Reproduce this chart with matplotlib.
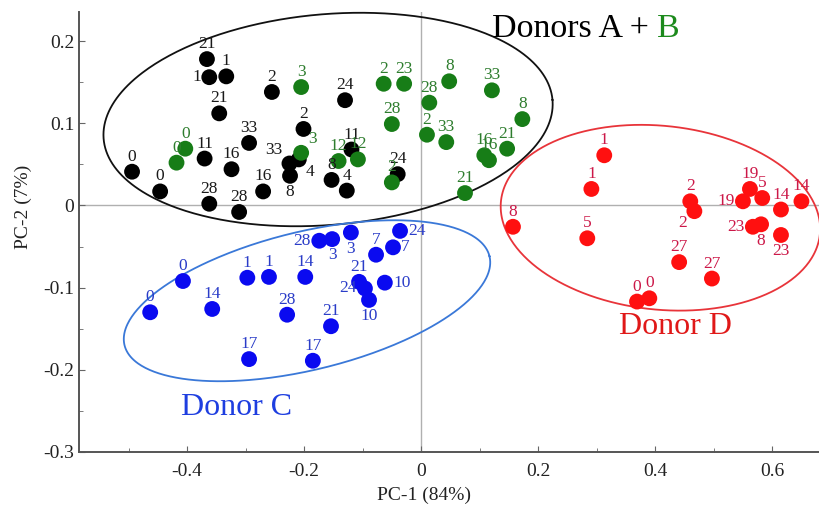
import numpy as np
import matplotlib
matplotlib.use("Agg")
import matplotlib.pyplot as plt
from matplotlib.ticker import MultipleLocator, FuncFormatter

plt.rcParams['font.family'] = ['Liberation Serif', 'DejaVu Serif']

# ---- scores (PC-1, PC-2) and sample labels ----
donor_ab_black_x = [-0.366, -0.362, -0.333, -0.345, -0.255, -0.130, -0.201, -0.294, -0.370, -0.324, -0.494,
                    -0.446, -0.362, -0.311, -0.270, -0.225, -0.209, -0.224, -0.119, -0.153, -0.127, -0.040]
donor_ab_black_y = [0.178, 0.156, 0.157, 0.112, 0.138, 0.128, 0.093, 0.076, 0.057, 0.044, 0.041,
                    0.017, 0.002, -0.008, 0.017, 0.051, 0.056, 0.036, 0.068, 0.031, 0.018, 0.038]
donor_ab_black_lab = ["21", "1", "1", "21", "2", "24", "2", "33", "11", "16", "0",
                      "0", "28", "28", "16", "33", "4", "8", "11", "8", "4", "24"]

donor_ab_green_x = [-0.403, -0.418, -0.205, -0.205, -0.141, -0.108, -0.064, -0.029, -0.050, -0.050,
                    0.048, 0.014, 0.121, 0.173, 0.010, 0.043, 0.108, 0.116, 0.147, 0.075]
donor_ab_green_y = [0.069, 0.052, 0.144, 0.064, 0.054, 0.056, 0.148, 0.148, 0.099, 0.028,
                    0.151, 0.125, 0.140, 0.105, 0.086, 0.077, 0.061, 0.055, 0.069, 0.015]
donor_ab_green_lab = ["0", "0", "3", "3", "12", "12", "2", "23", "28", "2",
                      "8", "28", "33", "8", "2", "33", "16", "16", "21", "21"]

donor_c_x = [-0.174, -0.152, -0.120, -0.036, -0.048, -0.077, -0.407, -0.297, -0.260, -0.198,
             -0.106, -0.096, -0.089, -0.062, -0.463, -0.357, -0.229, -0.154, -0.294, -0.185]
donor_c_y = [-0.043, -0.041, -0.033, -0.031, -0.051, -0.060, -0.092, -0.088, -0.087, -0.087,
             -0.093, -0.101, -0.115, -0.094, -0.130, -0.126, -0.133, -0.147, -0.187, -0.189]
donor_c_lab = ["28", "3", "3", "24", "7", "7", "0", "1", "1", "14",
               "21", "24", "10", "10", "0", "14", "28", "21", "17", "17"]

donor_d_x = [0.313, 0.291, 0.157, 0.284, 0.460, 0.467, 0.441, 0.497, 0.369, 0.390,
             0.562, 0.550, 0.583, 0.615, 0.650, 0.567, 0.581, 0.615]
donor_d_y = [0.061, 0.020, -0.026, -0.040, 0.005, -0.007, -0.069, -0.089, -0.117, -0.113,
             0.020, 0.005, 0.009, -0.005, 0.005, -0.026, -0.023, -0.036]
donor_d_lab = ["1", "1", "8", "5", "2", "2", "27", "27", "0", "0",
               "19", "19", "5", "14", "14", "23", "8", "23"]

# label placement that is not "above the dot" (index -> side)
black_side = {1: "w", 15: "nw", 16: "se", 17: "s"}
green_side = {3: "ne"}
c_side = {0: "w", 1: "s", 2: "s", 3: "e", 4: "e", 11: "w", 12: "s", 13: "e"}
d_side = {5: "sw", 11: "w", 15: "w", 16: "s", 17: "s"}

# group ellipses: centre, semi-axes (in PC-1 units), tilt in degrees
ellipse_ab = ((-0.159, 0.1045), 0.385, 0.180, 5.0)
ellipse_c = ((-0.195, -0.116), 0.321, 0.118, 13.7)
ellipse_d = ((0.409, -0.015), 0.274, 0.157, -6.0)

XLIM = (-0.5846, 0.680)
YLIM = (-0.30, 0.2353)

fig = plt.figure(figsize=(8.19, 5.11), dpi=100)
ax = fig.add_axes([0.0965, 0.1155, 0.9035, 0.861])
ax.set_xlim(*XLIM)
ax.set_ylim(*YLIM)

ax.axhline(0, color="#b0b0b0", lw=1.0, zorder=0)
ax.axvline(0, color="#b0b0b0", lw=1.0, zorder=0)

# ratio of pixels per y-unit to pixels per x-unit, to draw undistorted ellipses
bb = ax.get_window_extent()
px_x = bb.width / (XLIM[1] - XLIM[0])
px_y = bb.height / (YLIM[1] - YLIM[0])


def draw_ellipse(params, color):
    (cx, cy), a, b, ang = params
    t = np.linspace(0, 2 * np.pi, 400)
    th = np.deg2rad(ang)
    u = a * np.cos(t)
    v = b * np.sin(t)
    dx = u * np.cos(th) - v * np.sin(th)
    dy = (u * np.sin(th) + v * np.cos(th)) * px_x / px_y
    ax.plot(cx + dx, cy + dy, color=color, lw=1.3, zorder=1, clip_on=False)


offsets = {"n": (0, 5, "center", "bottom"), "s": (0, -6, "center", "top"),
           "w": (-6, 0, "right", "center"), "e": (6, 0, "left", "center"),
           "nw": (-5, 4, "right", "bottom"), "ne": (5, 4, "left", "bottom"),
           "se": (5, -3, "left", "top"), "sw": (-5, -3, "right", "top")}


def draw_group(xs, ys, labs, sides, dot_color, text_color):
    ax.scatter(xs, ys, s=130, color=dot_color, edgecolors="none", zorder=3)
    for i, (x, y, lab) in enumerate(zip(xs, ys, labs)):
        ox, oy, ha, va = offsets[sides.get(i, "n")]
        ax.annotate(lab, (x, y), xytext=(ox, oy), textcoords="offset points",
                    ha=ha, va=va, fontsize=12.5, color=text_color, zorder=4)


draw_ellipse(ellipse_ab, "#111111")
draw_ellipse(ellipse_c, "#3a78d8")
draw_ellipse(ellipse_d, "#e8343a")

draw_group(donor_ab_black_x, donor_ab_black_y, donor_ab_black_lab, black_side, "#000000", "#1a1a1a")
draw_group(donor_ab_green_x, donor_ab_green_y, donor_ab_green_lab, green_side, "#177d17", "#2e7d2e")
draw_group(donor_c_x, donor_c_y, donor_c_lab, c_side, "#0a0af0", "#2a3cc8")
draw_group(donor_d_x, donor_d_y, donor_d_lab, d_side, "#ff1010", "#cc1848")

# group titles
t1 = ax.text(0.121, 0.205, "Donors A + ", fontsize=24.5, color="black", ha="left", va="baseline")
ax.annotate("B", xy=(1, 0), xycoords=t1, va="bottom", ha="left", fontsize=24.5, color="#1c8a1c")
ax.text(-0.316, -0.246, "Donor C", fontsize=23, color="#1e3ee0", ha="center", va="center")
ax.text(0.435, -0.147, "Donor D", fontsize=23, color="#e01818", ha="center", va="center")

# axes styling
for side in ("top", "right"):
    ax.spines[side].set_visible(False)
for side in ("left", "bottom"):
    ax.spines[side].set_color("#555555")
    ax.spines[side].set_linewidth(1.4)

ax.xaxis.set_major_locator(MultipleLocator(0.2))
ax.xaxis.set_minor_locator(MultipleLocator(0.1))
ax.yaxis.set_major_locator(MultipleLocator(0.1))
ax.yaxis.set_minor_locator(MultipleLocator(0.05))
fmt = FuncFormatter(lambda v, p: "0" if abs(v) < 1e-9 else f"{v:.1f}")
ax.xaxis.set_major_formatter(fmt)
ax.yaxis.set_major_formatter(fmt)
ax.tick_params(which="both", direction="in", color="#666666", labelsize=14, labelcolor="#222222")
ax.tick_params(which="major", length=4)
ax.tick_params(which="minor", length=3)
ax.tick_params(axis="x", pad=8)

ax.set_xlabel("PC-1 (84%)", fontsize=14, color="#222222")
ax.set_ylabel("PC-2 (7%)", fontsize=14, color="#222222")
ax.xaxis.set_label_coords(0.466, -0.08)
ax.yaxis.set_label_coords(-0.063, 0.557)

fig.savefig("out.png", dpi=100)
